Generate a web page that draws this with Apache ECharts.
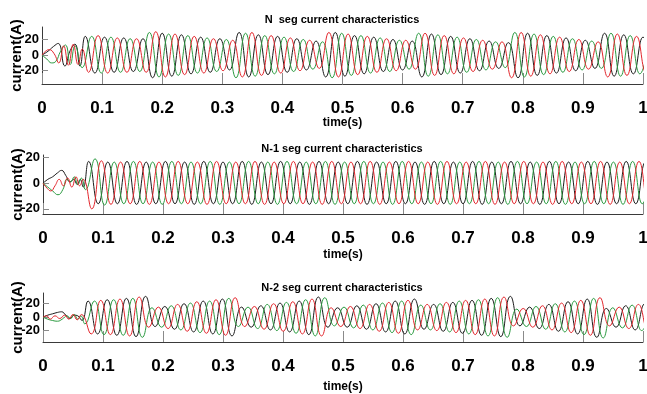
<!DOCTYPE html>
<html>
<head>
<meta charset="utf-8">
<script src="https://cdn.jsdelivr.net/npm/echarts@6/dist/echarts.min.js"></script>
<style>
  html, body { margin: 0; padding: 0; background: #fff; }
  #chart { width: 647px; height: 394px; }
</style>
</head>
<body>
<div id="chart"></div>
<script>
// half period of the 3-phase currents (s); extrema are read every half period
const HALF = 0.016;
const yTickValues = [-20, 0, 20];

// ---- N seg : [t, i] start-up transient, then the peaks/troughs
const nBlackPre = [[0,0],[0.01,5],[0.019,11],[0.027,15],[0.038,-14],[0.047,6],[0.055,14],[0.063,-14]];
const nBlackStart = 0.072;
const nBlack = [24,-23,23,-22,22,-21,21,-29,28,-27,26,-24,23,-22,21,-19,29,-28,26,-25,24,-22,21,-19,18,-28,29,-27,25,-24,23,-21,20,-19,18,-28,27,-25,24,-23,21,-20,18,-17,16,-29,28,-26,25,-23,22,-20,19,-17,28,-27,26,-24,23,-23];
const nGreenPre = [[0,0],[0.008,-5],[0.016,-10],[0.023,-8],[0.031,5],[0.039,13],[0.047,-12],[0.055,12]];
const nGreenStart = 0.0667;
const nGreen = [-16,24,-23,23,-22,21,-21,29,-28,27,-26,25,-23,22,-21,20,-29,28,-27,25,-24,23,-21,20,-18,17,-29,28,-26,25,-23,22,-21,19,-18,28,-27,26,-24,23,-22,20,-19,17,-16,29,-28,27,-25,24,-22,21,-19,18,-17,28,-27,25,-24,23];
const nRedPre = [[0,0],[0.006,5],[0.012,7],[0.02,2],[0.028,-10],[0.036,12],[0.044,-13],[0.052,14],[0.06,-12],[0.067,8]];
const nRedStart = 0.0773;
const nRed = [-22,25,-23,22,-22,21,-22,30,-28,27,-25,24,-23,21,-20,19,-28,29,-26,25,-23,22,-20,19,-17,29,-28,27,-25,24,-22,21,-20,19,-18,28,-26,25,-24,22,-21,19,-18,17,-29,29,-27,26,-24,23,-21,20,-18,17,-28,27,-26,24,-23,23];

// ---- N-1 seg
const mBlackPre = [[0,0],[0.008,3],[0.016,5],[0.024,8],[0.031,10],[0.038,6],[0.045,1],[0.051,3],[0.057,-1],[0.062,3],[0.067,-3]];
const mBlackStart = 0.076;
const mBlack = [17,-16,16.5,-16,17,-16.5,16.5,-16,17,-16,16.5,-16.5,17,-16,16.5,-16,17,-16.5,16.5,-16,17,-16,16.5,-16.5,17,-16,16.5,-16,17,-16.5,16.5,-16,17,-16,16.5,-16.5,17,-16,16.5,-16,17,-16.5,16.5,-16,17,-16,16.5,-16.5,17,-16,16.5,-16,17,-16.5,16.5,-16,17,-16,16.5,-16.5];
const mGreenPre = [[0,0],[0.008,-3],[0.016,-6],[0.025,-9],[0.033,-5],[0.04,3],[0.046,1],[0.052,5],[0.058,-1],[0.064,4]];
const mGreenStart = 0.0707;
const mGreen = [-5,19,-17,16.5,-16,17,-16,16.5,-16.5,17,-16,16.5,-16,17,-16.5,16.5,-16,17,-16,16.5,-16.5,17,-16,16.5,-16,17,-16.5,16.5,-16,17,-16,16.5,-16.5,17,-16,16.5,-16,17,-16.5,16.5,-16,17,-16,16.5,-16.5,17,-16,16.5,-16,17,-16.5,16.5,-16,17,-16,16.5,-16.5,17,-16,16.5];
const mRedPre = [[0,0],[0.007,-4],[0.013,-6],[0.02,-2],[0.027,3],[0.034,-2],[0.041,4],[0.048,-3],[0.055,5],[0.061,-2],[0.067,3]];
const mRedStart = 0.0813;
const mRed = [-20,17.5,-16.5,16.5,-16,17,-16.5,16.5,-16,17,-16,16.5,-16.5,17,-16,16.5,-16,17,-16.5,16.5,-16,17,-16,16.5,-16.5,17,-16,16.5,-16,17,-16.5,16.5,-16,17,-16,16.5,-16.5,17,-16,16.5,-16,17,-16.5,16.5,-16,17,-16,16.5,-16.5,17,-16,16.5,-16,17,-16.5,16.5,-16,17,-16,16.5];

// ---- N-2 seg
const pBlackPre = [[0,0],[0.008,3],[0.016,5],[0.024,7],[0.031,8],[0.038,3],[0.045,-2],[0.052,3],[0.058,2],[0.065,-5]];
const pBlackStart = 0.075;
const pBlack = [24,-25,26,-27,28,-29,31,-14,16,-18,20,-22,24,-25,27,-28,15,-15,17,-19,21,-22,24,-26,30,-15,14,-15,17,-18,20,-22,24,-25,27,-18,19,-21,22,-24,25,-27,28,-29,31,-13,15,-17,19,-21,23,-25,27,-30,13,-15,17,-19,20,-21];
const pGreenPre = [[0,0],[0.008,-3],[0.016,-5],[0.024,-6],[0.032,-3],[0.04,2],[0.046,-2],[0.052,4],[0.058,-3],[0.063,2]];
const pGreenStart = 0.0697;
const pGreen = [-10,24,-26,26,-27,28,-30,14,-15,17,-19,21,-23,24,-26,28,-14,15,-17,19,-20,22,-24,26,-28,29,-13,15,-16,18,-19,21,-23,24,-26,18,-19,20,-22,24,-25,26,-28,29,-30,12,-14,16,-18,20,-22,24,-26,28,-31,14,-16,18,-20,21];
const pRedPre = [[0,0],[0.006,2],[0.012,-3],[0.02,2],[0.028,-2],[0.036,3],[0.043,-3],[0.05,4],[0.057,-4],[0.064,4]];
const pRedStart = 0.0803;
const pRed = [-25,25,-26,27,-28,30,-15,15,-17,19,-21,23,-24,26,-27,29,-14,16,-18,20,-21,23,-25,27,-28,14,-14,16,-17,19,-21,22,-24,25,-19,19,-20,22,-23,25,-26,27,-28,30,-13,13,-15,17,-19,21,-23,25,-27,29,-13,15,-17,19,-20,21];

const titles = ['N  seg current characteristics', 'N-1 seg current characteristics', 'N-2 seg current characteristics'];

const FONT = "'Liberation Sans', Arial, sans-serif";
const COLORS = { black: '#1c1c1c', green: '#2b9a40', red: '#e2262c' };

function wave(pre, start, ext) {
    return pre.concat(ext.map((v, k) => [start + k * HALF, v]));
}

// layout of the 3 stacked axes
const panels = [
    { left: 42, top: 27, height: 57, min: -37, max: 36, nameGap: 33,
      waves: { black: wave(nBlackPre, nBlackStart, nBlack), green: wave(nGreenPre, nGreenStart, nGreen), red: wave(nRedPre, nRedStart, nRed) } },
    { left: 43, top: 155, height: 59, min: -24, max: 22, nameGap: 35,
      waves: { black: wave(mBlackPre, mBlackStart, mBlack), green: wave(mGreenPre, mGreenStart, mGreen), red: wave(mRedPre, mRedStart, mRed) } },
    { left: 43, top: 293, height: 49, min: -37, max: 36, nameGap: 39,
      waves: { black: wave(pBlackPre, pBlackStart, pBlack), green: wave(pGreenPre, pGreenStart, pGreen), red: wave(pRedPre, pRedStart, pRed) } }
];
const titleTops = [14, 143, 282];

let chart = echarts.init(document.getElementById('chart'));

let option = {
    animation: false,
    backgroundColor: '#fff',
    title: titles.map((t, i) => ({
        text: t,
        left: 342, top: titleTops[i], textAlign: 'center', padding: 0,
        textStyle: { fontFamily: FONT, fontSize: 11, fontWeight: 'bold', color: '#000' }
    })),
    grid: panels.map(p => ({ left: p.left, right: 4, top: p.top, height: p.height, containLabel: false, outerBoundsMode: 'none' })),
    xAxis: panels.map((p, i) => ({
        type: 'value', gridIndex: i, min: 0, max: 1, interval: 0.1,
        name: 'time(s)', nameLocation: 'middle', nameGap: p.nameGap, nameMoveOverlap: false,
        nameTextStyle: { fontFamily: FONT, fontSize: 12, fontWeight: 'bold', color: '#000' },
        axisLine: { show: true, onZero: false, lineStyle: { color: '#3a3a3a', width: 1 } },
        axisTick: { show: true, inside: true, length: 11, lineStyle: { color: '#8a8a8a' } },
        axisLabel: { margin: 16, fontFamily: FONT, fontSize: 17, fontWeight: 'bold', color: '#000' },
        splitLine: { show: false }
    })),
    yAxis: panels.map((p, i) => ({
        type: 'value', gridIndex: i, min: p.min, max: p.max,
        name: 'current(A)', nameLocation: 'middle', nameGap: 18, nameMoveOverlap: false,
        nameTextStyle: { fontFamily: FONT, fontSize: 15, fontWeight: 'bold', color: '#000' },
        axisLine: { show: true, onZero: false, lineStyle: { color: '#3a3a3a', width: 1 } },
        axisTick: { show: true, inside: true, length: 6, customValues: yTickValues, lineStyle: { color: '#8a8a8a' } },
        axisLabel: { margin: 3, customValues: yTickValues, fontFamily: FONT, fontSize: 13, fontWeight: 'bold', color: '#000' },
        splitLine: { show: false }
    })),
    series: []
};

panels.forEach((p, i) => {
    ['black', 'green', 'red'].forEach(c => {
        option.series.push({
            type: 'line', xAxisIndex: i, yAxisIndex: i,
            data: p.waves[c], showSymbol: false, smooth: 0.5, clip: true,
            lineStyle: { color: COLORS[c], width: 1 },
            emphasis: { disabled: true }
        });
    });
});

chart.setOption(option);
</script>
</body>
</html>
